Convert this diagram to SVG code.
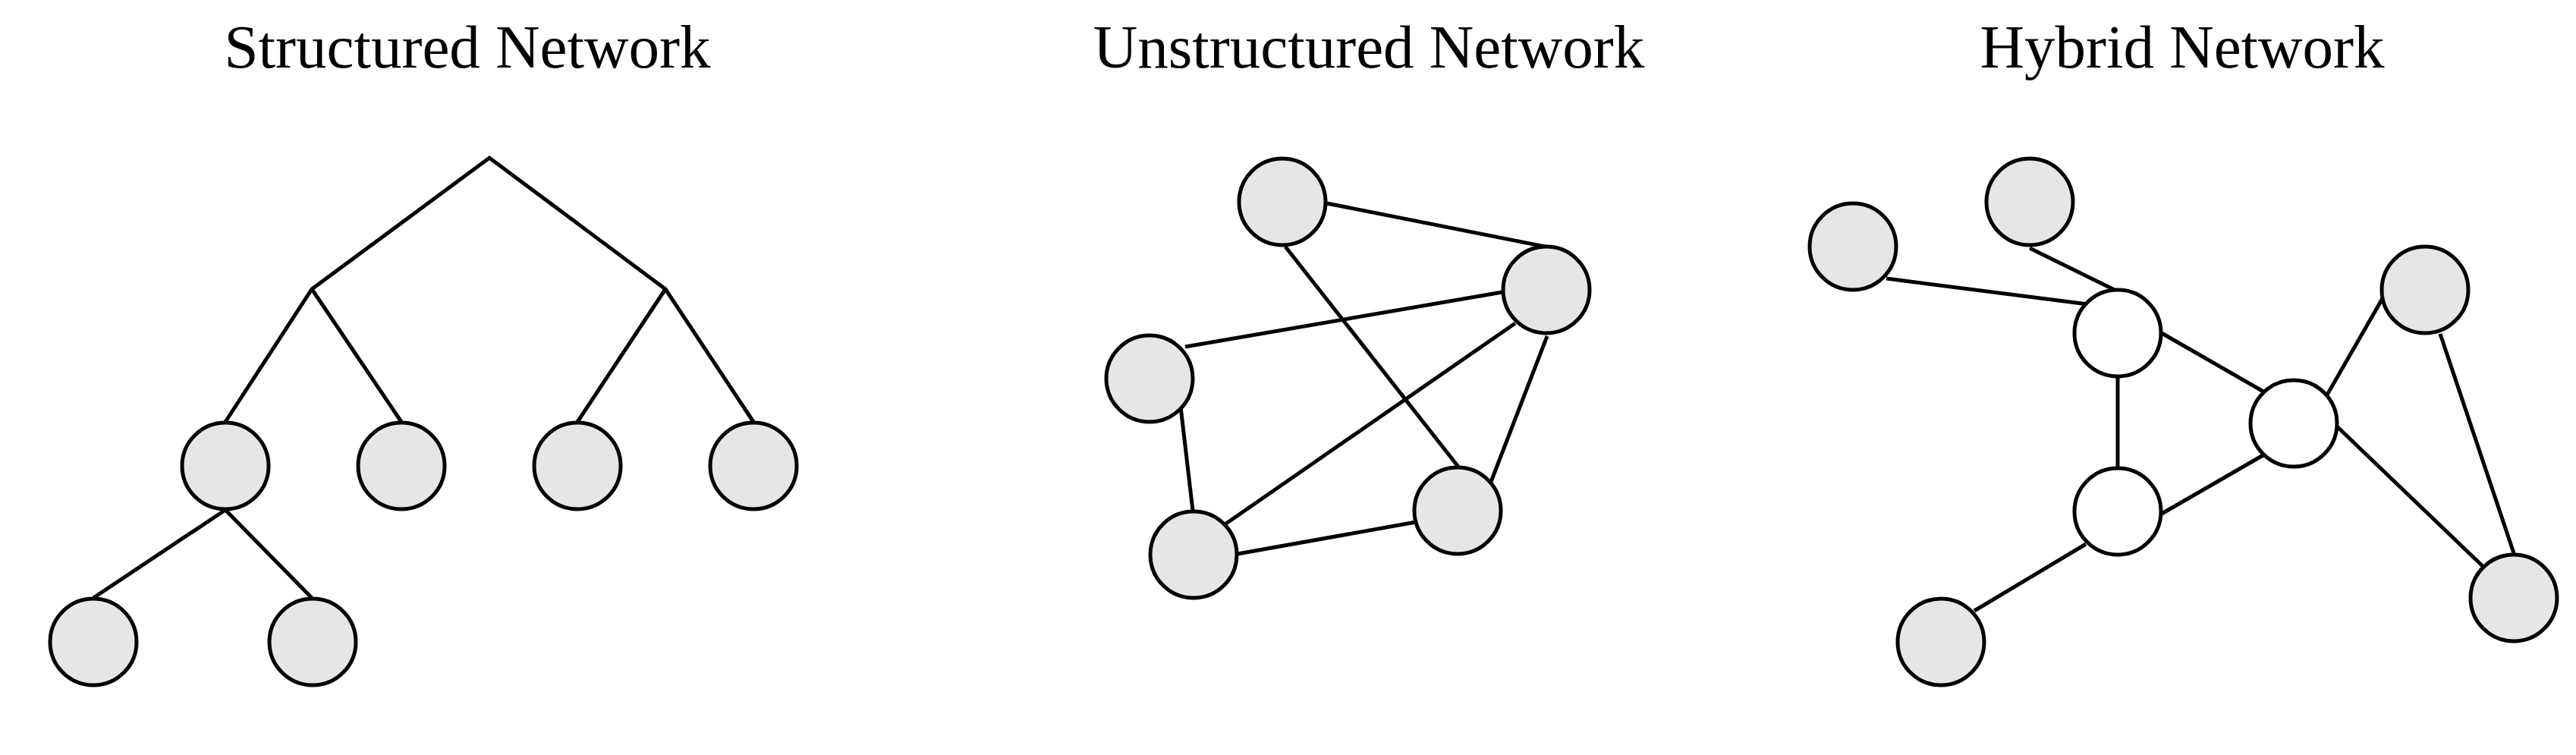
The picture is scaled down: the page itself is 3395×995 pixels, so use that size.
<svg xmlns="http://www.w3.org/2000/svg" width="3395" height="995" viewBox="0 0 3395 995">
<style>
.t{font-family:"Liberation Serif","Times New Roman",serif;font-size:81px;fill:#000;text-anchor:middle}
.g{fill:#e6e6e6;stroke:#000;stroke-width:5}
.w{fill:#fff;stroke:#000;stroke-width:5}
.e{stroke:#000;stroke-width:5;fill:none;stroke-linejoin:miter}
</style>
<rect width="3395" height="995" fill="#fff"/>
<g id="titles">
<text class="t" x="616" y="89">Structured Network</text>
<text class="t" x="1804" y="89">Unstructured Network</text>
<text class="t" x="2876" y="89">Hybrid Network</text>
</g>
<g id="connectors">
<polyline class="e" points="297,556 411,381 645,208 877,381 993,556"/>
<line class="e" x1="411" y1="381" x2="529" y2="556"/>
<line class="e" x1="877" y1="381" x2="761" y2="556"/>
<line class="e" x1="123" y1="788" x2="297" y2="672"/>
<line class="e" x1="297" y1="672" x2="411" y2="788"/>
<line class="e" x1="1749" y1="268" x2="2052" y2="328"/>
<line class="e" x1="1694" y1="325" x2="1925" y2="619"/>
<line class="e" x1="1980" y1="385" x2="1562" y2="457"/>
<line class="e" x1="1997" y1="426" x2="1613" y2="692"/>
<line class="e" x1="2039" y1="443" x2="1965" y2="635"/>
<line class="e" x1="1556" y1="536" x2="1572" y2="673"/>
<line class="e" x1="1631" y1="730" x2="1866" y2="688"/>
<line class="e" x1="2675" y1="327" x2="2795" y2="386"/>
<line class="e" x1="2486" y1="367" x2="2752" y2="401"/>
<line class="e" x1="2849" y1="439" x2="2983" y2="516"/>
<line class="e" x1="2791" y1="498" x2="2791" y2="618"/>
<line class="e" x1="2986" y1="598" x2="2849" y2="677"/>
<line class="e" x1="3066" y1="522" x2="3143" y2="388"/>
<line class="e" x1="3080" y1="562" x2="3274" y2="748"/>
<line class="e" x1="3216" y1="440" x2="3314" y2="732"/>
<line class="e" x1="2749" y1="717" x2="2602" y2="805"/>
</g>
<g id="s1"><circle class="g" cx="297" cy="614" r="57"/></g>
<g id="s2"><circle class="g" cx="529" cy="614" r="57"/></g>
<g id="s3"><circle class="g" cx="761" cy="614" r="57"/></g>
<g id="s4"><circle class="g" cx="993" cy="614" r="57"/></g>
<g id="s5"><circle class="g" cx="123" cy="846" r="57"/></g>
<g id="s6"><circle class="g" cx="412" cy="846" r="57"/></g>
<g id="u1"><circle class="g" cx="1690" cy="266" r="57"/></g>
<g id="u2"><circle class="g" cx="2038" cy="382" r="57"/></g>
<g id="u3"><circle class="g" cx="1515" cy="499" r="57"/></g>
<g id="u4"><circle class="g" cx="1573" cy="731" r="57"/></g>
<g id="u5"><circle class="g" cx="1921" cy="673" r="57"/></g>
<g id="h1"><circle class="g" cx="2442" cy="325" r="57"/></g>
<g id="h2"><circle class="g" cx="2675" cy="266" r="57"/></g>
<g id="h3"><circle class="w" cx="2791" cy="439" r="57"/></g>
<g id="h4"><circle class="w" cx="3023" cy="558" r="57"/></g>
<g id="h5"><circle class="w" cx="2791" cy="674" r="57"/></g>
<g id="h6"><circle class="g" cx="3196" cy="382" r="57"/></g>
<g id="h7"><circle class="g" cx="3313" cy="788" r="57"/></g>
<g id="h8"><circle class="g" cx="2558" cy="846" r="57"/></g>
</svg>
